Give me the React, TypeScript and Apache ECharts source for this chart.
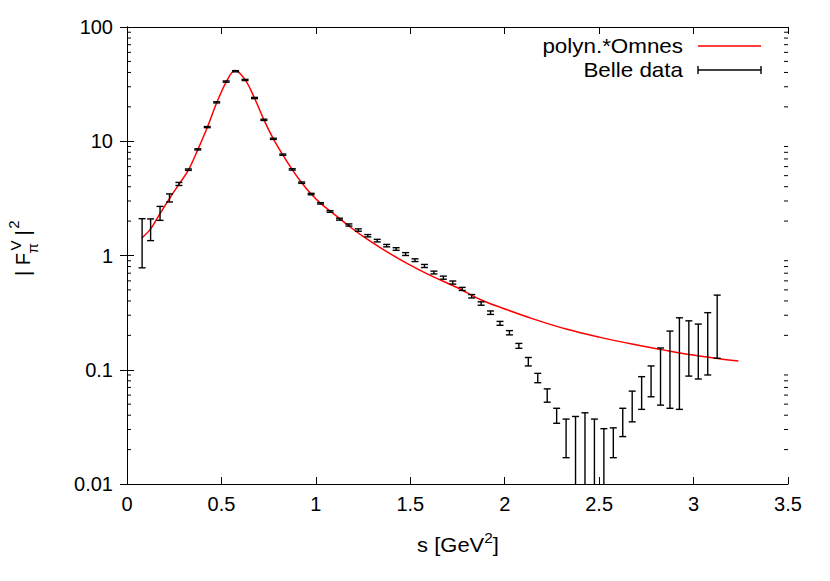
import React, { useEffect, useRef } from "react";
import * as echarts from "echarts";

// Belle data: s [GeV^2], |F|^2, error
const belleS = [
  0.08, 0.125, 0.175, 0.225, 0.275, 0.325, 0.375, 0.425, 0.475, 0.525,
  0.575, 0.625, 0.675, 0.725, 0.775, 0.825, 0.875, 0.925, 0.975, 1.025,
  1.075, 1.125, 1.175, 1.225, 1.275, 1.325, 1.375, 1.425, 1.475, 1.525,
  1.575, 1.625, 1.675, 1.725, 1.775, 1.825, 1.875, 1.925, 1.975, 2.025,
  2.075, 2.125, 2.175, 2.225, 2.275, 2.325, 2.375, 2.425, 2.475, 2.525,
  2.575, 2.625, 2.675, 2.725, 2.775, 2.825, 2.875, 2.925, 2.975, 3.025,
  3.075, 3.125,
];
const belleF2 = [
  1.44, 1.72, 2.36, 3.2, 4.23, 5.64, 8.49, 13.3, 21.9, 33.3,
  41.0, 34.4, 23.9, 15.4, 10.5, 7.63, 5.67, 4.34, 3.45, 2.86,
  2.43, 2.08, 1.85, 1.67, 1.49, 1.35, 1.22, 1.14, 1.03, 0.91,
  0.81, 0.71, 0.64, 0.58, 0.51, 0.44, 0.38, 0.316, 0.255, 0.211,
  0.162, 0.118, 0.085, 0.06, 0.04, 0.027, 0.021, 0.022, 0.02, 0.017,
  0.024, 0.036, 0.05, 0.066, 0.083, 0.102, 0.132, 0.165, 0.178, 0.167,
  0.203, 0.288,
];
const belleErr = [
  0.66, 0.37, 0.33, 0.26, 0.13, 0.08, 0.1, 0.15, 0.25, 0.4,
  0.5, 0.4, 0.3, 0.2, 0.13, 0.1, 0.08, 0.06, 0.05, 0.04,
  0.04, 0.04, 0.04, 0.04, 0.035, 0.035, 0.03, 0.03, 0.03, 0.025,
  0.025, 0.02, 0.02, 0.018, 0.016, 0.015, 0.013, 0.011, 0.01, 0.009,
  0.008, 0.01, 0.008, 0.008, 0.006, 0.01, 0.018, 0.02, 0.017, 0.0135,
  0.007, 0.01, 0.015, 0.021, 0.025, 0.053, 0.086, 0.12, 0.09, 0.084,
  0.113, 0.162,
];

// polyn.*Omnes curve
const fitS = [
  0.078, 0.125, 0.175, 0.225, 0.275, 0.325, 0.375, 0.425, 0.475, 0.525,
  0.572, 0.625, 0.675, 0.725, 0.775, 0.825, 0.875, 0.925, 0.975, 1.025,
  1.08, 1.17, 1.25, 1.36, 1.48, 1.6, 1.75, 1.87, 1.975, 2.15,
  2.33, 2.5, 2.68, 2.86, 3.03, 3.237,
];
const fitF2 = [
  1.42, 1.71, 2.33, 3.15, 4.2, 5.6, 8.45, 13.2, 21.7, 33.0,
  41.6, 34.6, 23.9, 15.4, 10.5, 7.6, 5.65, 4.33, 3.45, 2.86,
  2.42, 1.84, 1.47, 1.12, 0.857, 0.677, 0.522, 0.412, 0.353, 0.279,
  0.226, 0.193, 0.167, 0.147, 0.132, 0.119,
];

const minorTickValues = [
  0.02, 0.03, 0.04, 0.05, 0.06, 0.07, 0.08, 0.09,
  0.2, 0.3, 0.4, 0.5, 0.6, 0.7, 0.8, 0.9,
  2, 3, 4, 5, 6, 7, 8, 9,
  20, 30, 40, 50, 60, 70, 80, 90,
];

const X_MIN = 0;
const X_MAX = 3.5;
const Y_MIN = 0.01;
const Y_MAX = 100;

const FONT = "Liberation Sans, Arial, Helvetica, sans-serif";

export default function App() {
  const ref = useRef<HTMLDivElement>(null);

  useEffect(() => {
    document.body.style.margin = "0";
    const chart = echarts.init(ref.current!, null, { renderer: "svg" });

    const axisLine = { show: true, lineStyle: { color: "#000", width: 1 } };
    const axisTick = { show: true, inside: true, length: 7, lineStyle: { color: "#000", width: 1 } };

    const xBase = {
      type: "value",
      min: X_MIN,
      max: X_MAX,
      interval: 0.5,
      axisLine,
      axisTick,
      splitLine: { show: false },
    };
    const yBase = {
      type: "log",
      logBase: 10,
      min: Y_MIN,
      max: Y_MAX,
      axisLine,
      axisTick,
      splitLine: { show: false },
      minorTick: { show: false },
    };

    const txt = (extra: any) => ({
      fontFamily: FONT,
      fill: "#000",
      ...extra,
    });

    const option: any = {
      animation: false,
      backgroundColor: "#fff",
      grid: { left: 127, right: 42, top: 27, bottom: 97, containLabel: false, outerBoundsMode: "none" },
      xAxis: [
        {
          ...xBase,
          position: "bottom",
          axisLabel: { color: "#000", fontSize: 20, fontFamily: FONT, margin: 10 },
        },
        { ...xBase, position: "top", axisLabel: { show: false } },
      ],
      yAxis: [
        {
          ...yBase,
          position: "left",
          axisLabel: {
            color: "#000",
            fontSize: 20,
            fontFamily: FONT,
            margin: 14,
            formatter: (v: number) => String(Number(v.toPrecision(2))),
          },
        },
        { ...yBase, position: "right", axisLabel: { show: false } },
      ],
      series: [
        {
          name: "polyn.*Omnes",
          type: "line",
          xAxisIndex: 0,
          yAxisIndex: 0,
          data: fitS.map((s, i) => [s, fitF2[i]]),
          showSymbol: false,
          smooth: 0.35,
          lineStyle: { color: "#ff0000", width: 1.5 },
          z: 2,
          silent: true,
        },
        {
          name: "Belle data",
          type: "custom",
          xAxisIndex: 0,
          yAxisIndex: 0,
          clip: true,
          z: 3,
          silent: true,
          encode: { x: 0, y: 1 },
          data: belleS.map((s, i) => [s, belleF2[i], belleErr[i]]),
          renderItem: (params: any, api: any) => {
            const x = api.value(0);
            const v = api.value(1);
            const e = api.value(2);
            const hi = api.coord([x, v + e]);
            const lo = api.coord([x, Math.max(v - e, 1e-5)]);
            const w = 3.5;
            const style = { stroke: "#000", lineWidth: 1.4 };
            return {
              type: "group",
              children: [
                { type: "line", shape: { x1: hi[0], y1: hi[1], x2: lo[0], y2: lo[1] }, style },
                { type: "line", shape: { x1: hi[0] - w, y1: hi[1], x2: hi[0] + w, y2: hi[1] }, style },
                { type: "line", shape: { x1: lo[0] - w, y1: lo[1], x2: lo[0] + w, y2: lo[1] }, style },
              ],
            };
          },
        },
        {
          name: "minorTicks",
          type: "custom",
          xAxisIndex: 0,
          yAxisIndex: 0,
          clip: false,
          silent: true,
          z: 4,
          encode: { x: 0, y: 1 },
          data: minorTickValues.map((v) => [X_MIN, v]),
          renderItem: (params: any, api: any) => {
            const v = api.value(1);
            const l = api.coord([X_MIN, v]);
            const r = api.coord([X_MAX, v]);
            const len = 4;
            const style = { stroke: "#000", lineWidth: 1 };
            return {
              type: "group",
              children: [
                { type: "line", shape: { x1: l[0], y1: l[1], x2: l[0] + len, y2: l[1] }, style },
                { type: "line", shape: { x1: r[0], y1: r[1], x2: r[0] - len, y2: r[1] }, style },
              ],
            };
          },
        },
      ],
      graphic: [
        // legend
        {
          type: "text",
          x: 683,
          y: 46,
          scaleX: 1.12,
          style: txt({
            text: "polyn.*Omnes",
            fontSize: 20,
            align: "right",
            verticalAlign: "middle",
            textAlign: "right",
            textVerticalAlign: "middle",
          }),
        },
        {
          type: "line",
          shape: { x1: 698, y1: 46, x2: 761, y2: 46 },
          style: { stroke: "#ff0000", lineWidth: 1.5 },
        },
        {
          type: "text",
          x: 683,
          y: 70,
          scaleX: 1.12,
          style: txt({
            text: "Belle data",
            fontSize: 20,
            align: "right",
            verticalAlign: "middle",
            textAlign: "right",
            textVerticalAlign: "middle",
          }),
        },
        {
          type: "line",
          shape: { x1: 698, y1: 70, x2: 761, y2: 70 },
          style: { stroke: "#000", lineWidth: 1.4 },
        },
        {
          type: "line",
          shape: { x1: 698, y1: 66, x2: 698, y2: 74 },
          style: { stroke: "#000", lineWidth: 1.4 },
        },
        {
          type: "line",
          shape: { x1: 761, y1: 66, x2: 761, y2: 74 },
          style: { stroke: "#000", lineWidth: 1.4 },
        },
        // x axis title
        {
          type: "text",
          x: 458,
          y: 545,
          scaleX: 1.1,
          style: {
            text: "{a|s [GeV}{b|2}{a|]}",
            fill: "#000",
            align: "center",
            verticalAlign: "middle",
            textAlign: "center",
            textVerticalAlign: "middle",
            rich: {
              a: { fontSize: 20, fontFamily: FONT, lineHeight: 28, fill: "#000" },
              b: { fontSize: 14, fontFamily: FONT, lineHeight: 14, verticalAlign: "top", fill: "#000" },
            },
          },
        },
        // y axis title
        {
          type: "group",
          x: 23,
          y: 277,
          rotation: Math.PI / 2,
          children: [
            {
              type: "text",
              x: 1,
              y: 0,
              style: txt({ text: "| F", fontSize: 20, align: "left", verticalAlign: "middle", textAlign: "left", textVerticalAlign: "middle" }),
            },
            {
              type: "text",
              x: 26.5,
              y: -8,
              style: txt({ text: "V", fontSize: 15, align: "left", verticalAlign: "middle", textAlign: "left", textVerticalAlign: "middle" }),
            },
            {
              type: "text",
              x: 23.5,
              y: 9,
              style: txt({ text: "π", fontSize: 15, align: "left", verticalAlign: "middle", textAlign: "left", textVerticalAlign: "middle" }),
            },
            {
              type: "text",
              x: 41.4,
              y: 0,
              style: txt({ text: "|", fontSize: 20, align: "left", verticalAlign: "middle", textAlign: "left", textVerticalAlign: "middle" }),
            },
            {
              type: "text",
              x: 48.3,
              y: -10,
              style: txt({ text: "2", fontSize: 15, align: "left", verticalAlign: "middle", textAlign: "left", textVerticalAlign: "middle" }),
            },
          ],
        },
      ],
    };

    chart.setOption(option);
    return () => chart.dispose();
  }, []);

  return <div ref={ref} style={{ width: 830, height: 581 }} />;
}
